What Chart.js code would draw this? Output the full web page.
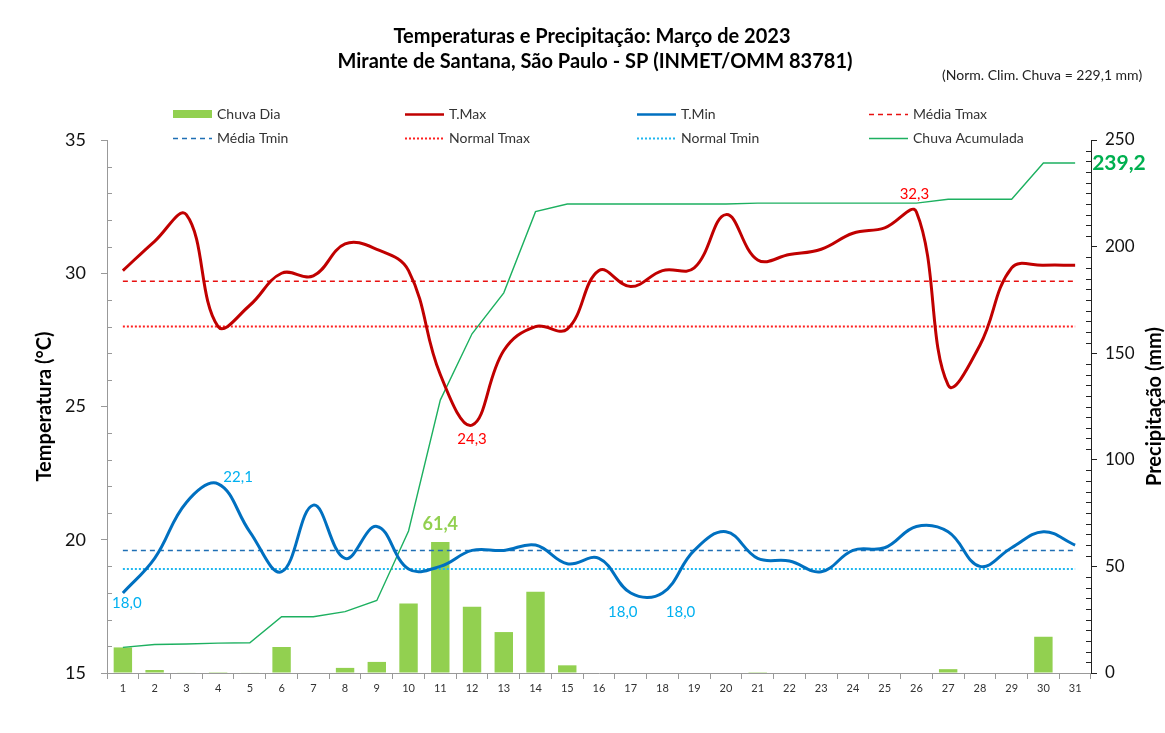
<!DOCTYPE html>
<html><head><meta charset="utf-8">
<script src="https://cdn.jsdelivr.net/npm/chart.js@4.4.0/dist/chart.umd.min.js"></script>
<style>html,body{margin:0;padding:0;background:#fff;}#wrap{width:1165px;height:733px;position:relative;}canvas{display:block;}</style>
</head><body><div id="wrap"><canvas id="c" width="1165" height="733"></canvas></div>
<script>
// ---- data ----
const days = ['1','2','3','4','5','6','7','8','9','10','11','12','13','14','15','16','17','18','19','20','21','22','23','24','25','26','27','28','29','30','31'];
const chuvaDia = [12.0,1.4,0.2,0.4,0.2,12.2,0,2.4,5.2,32.6,61.4,31.1,19.2,38.1,3.6,0,0,0,0,0,0.4,0,0,0,0,0,1.8,0,0,17.0,0];
const chuvaAcumulada = [12.0,13.4,13.6,14.0,14.2,26.4,26.4,28.8,34.0,66.6,128.0,159.1,178.3,216.4,220.0,220.0,220.0,220.0,220.0,220.0,220.4,220.4,220.4,220.4,220.4,220.4,222.2,222.2,222.2,239.2,239.2];
const tMax = [30.1,31.2,32.2,28.0,28.8,30.0,29.9,31.1,30.9,30.1,26.2,24.3,27.1,28.0,27.9,30.1,29.5,30.1,30.2,32.2,30.5,30.7,30.9,31.5,31.7,32.3,25.8,27.3,30.2,30.3,30.3];
const tMin = [18.0,19.3,21.4,22.1,20.3,18.8,21.3,19.3,20.5,18.9,19.0,19.6,19.6,19.8,19.1,19.3,18.0,18.0,19.6,20.3,19.3,19.2,18.8,19.6,19.7,20.5,20.3,19.0,19.7,20.3,19.8];
const mediaTmax = 29.7;
const mediaTmin = 19.6;
const normalTmax = 28.0;
const normalTmin = 18.9;
const tempTickMin = 15, tempTickMax = 35, tempMajorStep = 5;
const chuvaTickMin = 0, chuvaTickMax = 250, chuvaMajorStep = 50;
const titleLines = ['Temperaturas e Precipitação: Março de 2023', 'Mirante de Santana, São Paulo - SP (INMET/OMM 83781)'];
const noteText = '(Norm. Clim. Chuva = 229,1 mm)';

const FONT = 'Lato, "Liberation Sans", sans-serif';
const fmt = v => v.toFixed(1).replace('.', ',');
const flat = v => days.map(() => v);

const datasets = [
  {type:'bar', label:'Chuva Dia', data:chuvaDia, yAxisID:'y1', backgroundColor:'#92D050', barPercentage:0.58, categoryPercentage:1, order:20},
  {type:'line', label:'T.Max', data:tMax, yAxisID:'y', borderColor:'#C00000', borderWidth:3, tension:0.4, pointRadius:0, order:1},
  {type:'line', label:'T.Min', data:tMin, yAxisID:'y', borderColor:'#0070C0', borderWidth:3, tension:0.4, pointRadius:0, order:2},
  {type:'line', label:'Média Tmax', data:flat(mediaTmax), yAxisID:'y', borderColor:'#E81010', borderWidth:1.5, borderDash:[5,4], pointRadius:0, order:6},
  {type:'line', label:'Média Tmin', data:flat(mediaTmin), yAxisID:'y', borderColor:'#1F6FB5', borderWidth:1.5, borderDash:[5,4], pointRadius:0, order:7},
  {type:'line', label:'Normal Tmax', data:flat(normalTmax), yAxisID:'y', borderColor:'#FF2020', borderWidth:2, borderDash:[2,2], pointRadius:0, order:8},
  {type:'line', label:'Normal Tmin', data:flat(normalTmin), yAxisID:'y', borderColor:'#20B8F0', borderWidth:2, borderDash:[2,2], pointRadius:0, order:9},
  {type:'line', label:'Chuva Acumulada', data:chuvaAcumulada, yAxisID:'y1', borderColor:'#1DB060', borderWidth:1.4, tension:0, pointRadius:0, order:5}
];

// label annotations (style / placement only)
const dataLabels = [
  {ds:2, i:0, dx:4, dy:10, color:'#00B0F0', font:'15px '+FONT},
  {ds:2, i:3, dx:20, dy:-7, color:'#00B0F0', font:'15px '+FONT},
  {ds:2, i:16, dx:-8, dy:19, color:'#00B0F0', font:'15px '+FONT},
  {ds:2, i:17, dx:18, dy:19, color:'#00B0F0', font:'15px '+FONT},
  {ds:1, i:11, dx:0, dy:14, color:'#FF0000', font:'15px '+FONT},
  {ds:1, i:25, dx:-2, dy:-18, color:'#FF0000', font:'15px '+FONT},
  {ds:0, i:10, dx:0, dy:-18, color:'#92D050', font:'bold 18px '+FONT},
  {ds:7, i:30, dx:17, dy:0, color:'#00B050', font:'bold 21px '+FONT, align:'left'}
];

const legendCols = [173, 405, 637, 869];
const legendRows = [114, 138];
const legendOrder = [0,1,2,3,4,5,6,7];

const deco = {
  id:'deco',
  afterDatasetsDraw(chart) {
    const ctx = chart.ctx;
    ctx.save();
    ctx.textBaseline = 'middle';
    dataLabels.forEach(d => {
      const meta = chart.getDatasetMeta(d.ds);
      const el = meta.data[d.i];
      const v = chart.data.datasets[d.ds].data[d.i];
      const sc = chart.scales[chart.data.datasets[d.ds].yAxisID];
      const x = el.x, y = sc.getPixelForValue(v);
      ctx.font = d.font; ctx.fillStyle = d.color; ctx.textAlign = d.align || 'center';
      ctx.fillText(fmt(v), x + d.dx, y + d.dy);
    });
    ctx.restore();
  },
  afterDraw(chart) {
    const ctx = chart.ctx;
    const ca = chart.chartArea;
    ctx.save();
    // minor ticks (inside)
    const ys = chart.scales.y, y1 = chart.scales.y1;
    ctx.strokeStyle = '#999'; ctx.lineWidth = 1;
    for (let v = tempTickMin; v <= tempTickMax; v++) {
      if (v % tempMajorStep === 0) continue;
      const py = Math.round(ys.getPixelForValue(v)) + 0.5;
      ctx.beginPath(); ctx.moveTo(ca.left, py); ctx.lineTo(ca.left + 5, py); ctx.stroke();
    }
    ctx.strokeStyle = '#222';
    for (let v = chuvaTickMin; v <= chuvaTickMax; v += 5) {
      if (v % chuvaMajorStep === 0) continue;
      const py = Math.round(y1.getPixelForValue(v)) + 0.5;
      ctx.beginPath(); ctx.moveTo(ca.right, py); ctx.lineTo(ca.right - 5, py); ctx.stroke();
    }
    // titles
    ctx.fillStyle = '#000'; ctx.textAlign = 'center'; ctx.textBaseline = 'middle';
    ctx.font = 'bold 20px ' + FONT;
    ctx.fillText(titleLines[0], 592, 37);
    ctx.fillText(titleLines[1], 595, 62);
    ctx.font = '14px ' + FONT; ctx.textAlign = 'left'; ctx.fillStyle = '#222';
    ctx.fillText(noteText, 942, 75);
    // axis titles
    ctx.font = 'bold 20px ' + FONT; ctx.fillStyle = '#000'; ctx.textAlign = 'center';
    const cy = (ca.top + ca.bottom) / 2;
    ctx.save(); ctx.translate(45, cy); ctx.rotate(-Math.PI/2); ctx.fillText('Temperatura (°C)', 0, 0); ctx.restore();
    ctx.save(); ctx.translate(1155, cy); ctx.rotate(-Math.PI/2); ctx.fillText('Precipitação (mm)', 0, 0); ctx.restore();
    // legend
    ctx.font = '14px ' + FONT; ctx.textAlign = 'left'; ctx.textBaseline = 'middle';
    legendOrder.forEach((di, k) => {
      const ds = chart.data.datasets[di];
      const x = legendCols[k % 4], y = legendRows[Math.floor(k / 4)];
      if (ds.type === 'bar') {
        ctx.fillStyle = ds.backgroundColor; ctx.fillRect(x, y - 4, 39, 8);
      } else {
        ctx.save();
        ctx.strokeStyle = ds.borderColor; ctx.lineWidth = Math.min(ds.borderWidth, 2.5);
        ctx.setLineDash(ds.borderDash || []);
        ctx.beginPath(); ctx.moveTo(x, y + 0.5); ctx.lineTo(x + 39, y + 0.5); ctx.stroke();
        ctx.restore();
      }
      ctx.fillStyle = '#333';
      ctx.fillText(ds.label, x + 44, y);
    });
    ctx.restore();
  }
};

new Chart(document.getElementById('c'), {
  type:'bar',
  data:{labels:days, datasets},
  plugins:[deco],
  options:{
    responsive:false, animation:false, devicePixelRatio:1,
    layout:{padding:{top:140, left:0, right:0, bottom:0}},
    plugins:{legend:{display:false}, title:{display:false}, tooltip:{enabled:false}},
    scales:{
      x:{
        offset:true,
        grid:{offset:true, drawOnChartArea:false, drawTicks:true, tickLength:6, color:'#999'},
        border:{color:'#999'},
        ticks:{font:{family:FONT, size:11}, color:'#333', padding:3, autoSkip:false, maxRotation:0},
        afterFit(s){ s.height = 60; }
      },
      y:{
        position:'left', min:tempTickMin, max:tempTickMax,
        grid:{drawOnChartArea:false, drawTicks:true, tickLength:6, color:(c)=> (c.tick && c.tick.value % tempMajorStep === 0) ? '#999' : 'rgba(0,0,0,0)'},
        border:{color:'#999'},
        ticks:{stepSize:1, autoSkip:false, padding:15, font:{family:FONT, size:18}, color:'#111', callback:(v)=> v % tempMajorStep === 0 ? v : ''},
        afterFit(s){ s.width = 107; }
      },
      y1:{
        position:'right', min:chuvaTickMin, max:chuvaTickMax,
        grid:{drawOnChartArea:false, drawTicks:true, tickLength:6, color:(c)=> (c.tick && c.tick.value % chuvaMajorStep === 0) ? '#222' : 'rgba(0,0,0,0)'},
        border:{color:'#222'},
        ticks:{stepSize:5, autoSkip:false, padding:8, font:{family:FONT, size:17}, color:'#111', callback:(v)=> v % chuvaMajorStep === 0 ? v : ''},
        afterFit(s){ s.width = 74; }
      }
    }
  }
});
</script></body></html>
